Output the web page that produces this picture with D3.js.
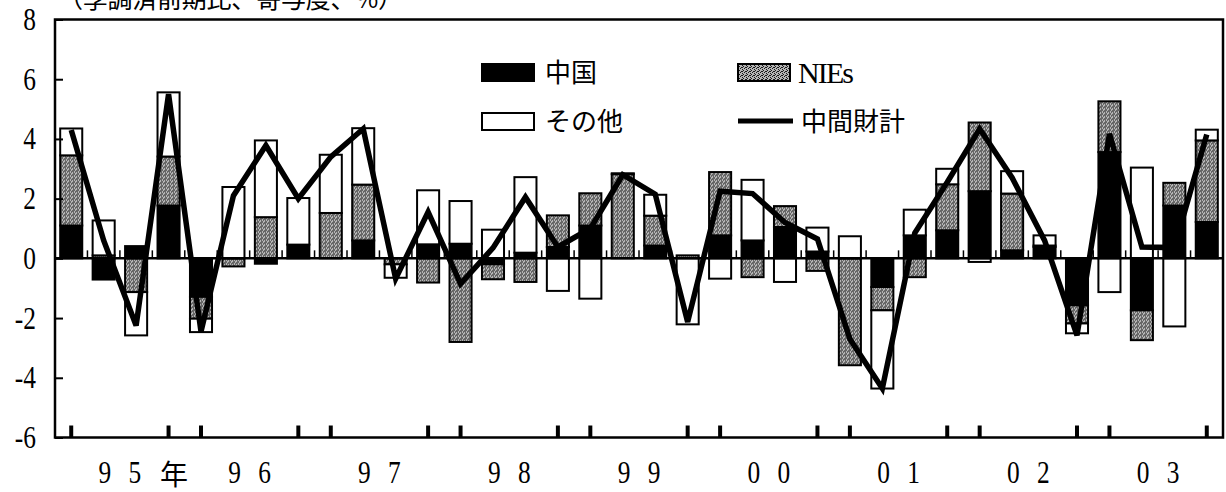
<!DOCTYPE html>
<html>
<head>
<meta charset="utf-8">
<script src="https://cdn.jsdelivr.net/npm/d3@7"></script>
<style>
  body { margin: 0; background: #fff; }
  .chart text { fill: #000; }
</style>
</head>
<body>
<div class="chart"></div>
<script>
// DATA ------------------------------------

// years on the x axis, four quarters each (95Q1 .. 03Q4)
const years = ["95", "96", "97", "98", "99", "00", "01", "02", "03"]
const quarters = years.flatMap(y => [1, 2, 3, 4].map(q => y + "Q" + q))

// contributions (% pts)
const china = [
   1.10, -0.71,  0.41,  1.77,
  -1.29,  0.00, -0.18,  0.46,
   0.00,  0.60,  0.00,  0.47,
   0.49, -0.20,  0.19,  0.38,
   1.10,  0.00,  0.43,  0.00,
   0.77,  0.60,  1.05,  0.23,
   0.00, -0.96,  0.77,  0.94,
   2.25,  0.27,  0.38, -1.57,
   3.56, -1.74,  1.77,  1.22
]
const nies = [
   2.35,  0.10, -1.13,  1.64,
  -0.73, -0.27,  1.38,  0.00,
   1.52,  1.87, -0.20, -0.81,
  -2.80, -0.50, -0.79,  1.06,
   1.08,  2.82,  1.00,  0.10,
   2.12, -0.63,  0.70, -0.42,
  -3.58, -0.78, -0.63,  1.54,
   2.30,  1.90,  0.05, -0.61,
   1.70, -1.00,  0.76,  2.73
]
const others = [
   0.90,  1.17, -1.45,  2.15,
  -0.45,  2.39,  2.57,  1.56,
   1.95,  1.89, -0.45,  1.81,
   1.43,  0.96,  2.53, -1.09,
  -1.35,  0.03,  0.70, -2.21,
  -0.68,  2.03, -0.79,  0.80,
   0.74, -2.62,  0.86,  0.52,
  -0.12,  0.75,  0.34, -0.33,
  -1.13,  3.04, -2.28,  0.36
]
// 中間財計 (line)
const total = [
   4.30,  0.60, -2.25,  5.50,
  -2.45,  2.10,  3.78,  2.00,
   3.40,  4.34, -0.68,  1.55,
  -0.85,  0.35,  2.05,  0.38,
   1.00,  2.80,  2.15, -2.13,
   2.25,  2.17,  1.20,  0.65,
  -2.70, -4.36,  0.85,  2.55,
   4.34,  2.70,  0.60, -2.58,
   4.17,  0.38,  0.36,  4.15
]

const yTicks = [-6, -4, -2, 0, 2, 4, 6, 8]
const seriesNames = ["中国", "NIEs", "その他"]
const lineName = "中間財計"
const title = "（季調済前期比、寄与度、%）"

// CHART INIT ------------------------------

const W = 1226, H = 492
const margin = {top: 19.5, right: 3, bottom: 54.5, left: 55}
const width = W - margin.left - margin.right
const height = H - margin.top - margin.bottom

const svg_base = d3.select(".chart").append("svg")
    .attr("width", W)
    .attr("height", H)
    .style("display", "block")

// stipple pattern for NIEs
const defs = svg_base.append("defs")
const pat = defs.append("pattern")
    .attr("id", "stipple")
    .attr("width", 4).attr("height", 4)
    .attr("patternUnits", "userSpaceOnUse")
pat.append("rect").attr("width", 4).attr("height", 4).attr("fill", "#b4b4b4")
;[[0, 0], [2, 1], [1, 3], [3, 2], [2, 3]].forEach(p => {
  pat.append("rect").attr("x", p[0]).attr("y", p[1])
      .attr("width", 1).attr("height", 1).attr("fill", "#1a1a1a")
})
const fills = ["#000", "url(#stipple)", "#fff"]

const svg = svg_base.append("g")
    .attr("transform", `translate(${margin.left},${margin.top})`)

const xScale = d3.scaleBand()
    .domain(quarters)
    .range([0, width])
    .paddingInner(0.32)
    .paddingOuter(0.16)

const yScale = d3.scaleLinear()
    .domain([-6, 8])
    .range([height, 0])

// build stacked segments: china nearest zero, then NIEs, then others
const segs = []
quarters.forEach((q, i) => {
  let pos = 0, neg = 0
  ;[china[i], nies[i], others[i]].forEach((v, k) => {
    if (v === 0) return
    if (v > 0) { segs.push({q, k, y0: pos, y1: pos + v}); pos += v }
    else { segs.push({q, k, y0: neg + v, y1: neg}); neg += v }
  })
})

// BARS ------------------------------------
svg.append("g").selectAll("rect")
  .data(segs)
  .join("rect")
    .attr("x", d => xScale(d.q))
    .attr("width", xScale.bandwidth())
    .attr("y", d => yScale(d.y1))
    .attr("height", d => yScale(d.y0) - yScale(d.y1))
    .attr("fill", d => fills[d.k])
    .attr("stroke", "#000")
    .attr("stroke-width", 2)

// zero line + small ticks between bars
svg.append("line")
    .attr("x1", 0).attr("x2", width)
    .attr("y1", yScale(0)).attr("y2", yScale(0))
    .attr("stroke", "#000").attr("stroke-width", 2.5)

const step = xScale.step()
svg.append("g").selectAll("line")
  .data(quarters.slice(1))
  .join("line")
    .attr("x1", d => xScale(d) - step * xScale.paddingInner() / 2)
    .attr("x2", d => xScale(d) - step * xScale.paddingInner() / 2)
    .attr("y1", yScale(0))
    .attr("y2", yScale(0) - 8)
    .attr("stroke", "#000").attr("stroke-width", 1.5)

// LINE ------------------------------------
const line = d3.line()
    .x((d, i) => xScale(quarters[i]) + xScale.bandwidth() / 2)
    .y(d => yScale(d))

svg.append("path")
    .datum(total)
    .attr("d", line)
    .attr("fill", "none")
    .attr("stroke", "#000")
    .attr("stroke-width", 5.5)
    .attr("stroke-linejoin", "miter")

// AXES ------------------------------------
const yAx = d3.axisLeft(yScale)
    .tickValues(yTicks)
    .tickSize(-8)
    .tickFormat("")
const yGroup = svg.append("g").call(yAx)
yGroup.select(".domain").remove()
yGroup.selectAll("line").attr("stroke-width", 2)

// year-end / year-start ticks on bottom axis
const xAx = d3.axisBottom(xScale)
    .tickValues(quarters.filter(q => q.endsWith("Q1") || q.endsWith("Q4")))
    .tickSize(-12)
    .tickFormat("")
const xGroup = svg.append("g")
    .attr("transform", `translate(0,${height})`)
    .call(xAx)
xGroup.select(".domain").remove()
xGroup.selectAll("line").attr("stroke-width", 4)

// frame
svg.append("rect")
    .attr("x", 0).attr("y", 0)
    .attr("width", width).attr("height", height)
    .attr("fill", "none")
    .attr("stroke", "#000")
    .attr("stroke-width", 2.5)

// y labels (narrow serif)
svg_base.append("g").selectAll("text")
  .data(yTicks)
  .join("text")
    .attr("transform", d => `translate(36,${margin.top + yScale(d) + 10.5}) scale(0.82,1)`)
    .attr("text-anchor", "end")
    .style("font-family", "'Liberation Serif', serif")
    .style("font-size", "31px")
    .text(d => d)

// year labels: two spaced digits centred on the year
const yearG = svg_base.append("g")
years.forEach((y, i) => {
  const x0 = xScale(quarters[i * 4]) + xScale.bandwidth() / 2
  const x1 = xScale(quarters[i * 4 + 3]) + xScale.bandwidth() / 2
  const cx = margin.left + (x0 + x1) / 2
  y.split("").forEach((ch, j) => {
    yearG.append("text")
        .attr("transform", `translate(${cx + (j ? 15 : -15)},483) scale(0.82,1)`)
        .attr("text-anchor", "middle")
        .style("font-family", "'Liberation Serif', serif")
        .style("font-size", "31px")
        .text(ch)
  })
  if (i === 0) {
    yearG.append("text")
        .attr("x", cx + 54).attr("y", 485)
        .attr("text-anchor", "middle")
        .style("font-family", "'Noto Sans CJK JP', sans-serif")
        .style("font-size", "28px")
        .text("年")
  }
})

// title (top is cut off by the page edge, as in the source)
svg_base.append("text")
    .attr("x", 58).attr("y", 8)
    .style("font-family", "'Noto Sans CJK JP', sans-serif")
    .style("font-size", "25px")
    .attr("textLength", 345)
    .text(title)

// LEGEND ----------------------------------
const legend = svg_base.append("g")
const legPos = [[482, 64], [738, 64], [482, 113]]
seriesNames.forEach((name, k) => {
  const [lx, ly] = legPos[k]
  legend.append("rect")
      .attr("x", lx).attr("y", ly)
      .attr("width", 52).attr("height", 17)
      .attr("fill", fills[k])
      .attr("stroke", "#000").attr("stroke-width", 2)
  const t = legend.append("text")
      .attr("x", lx + 63).attr("y", ly + 18)
      .text(name)
  if (name === "NIEs") {
    t.attr("x", lx + 60).attr("y", ly + 19)
     .style("font-family", "'Liberation Serif', serif")
     .style("font-size", "30px")
     .attr("textLength", 56)
  } else {
    t.style("font-family", "'Noto Sans CJK JP', sans-serif")
     .style("font-size", "26px")
  }
})
legend.append("line")
    .attr("x1", 738).attr("x2", 793)
    .attr("y1", 121).attr("y2", 121)
    .attr("stroke", "#000").attr("stroke-width", 5)
legend.append("text")
    .attr("x", 801).attr("y", 131)
    .style("font-family", "'Noto Sans CJK JP', sans-serif")
    .style("font-size", "26px")
    .text(lineName)
</script>
</body>
</html>
